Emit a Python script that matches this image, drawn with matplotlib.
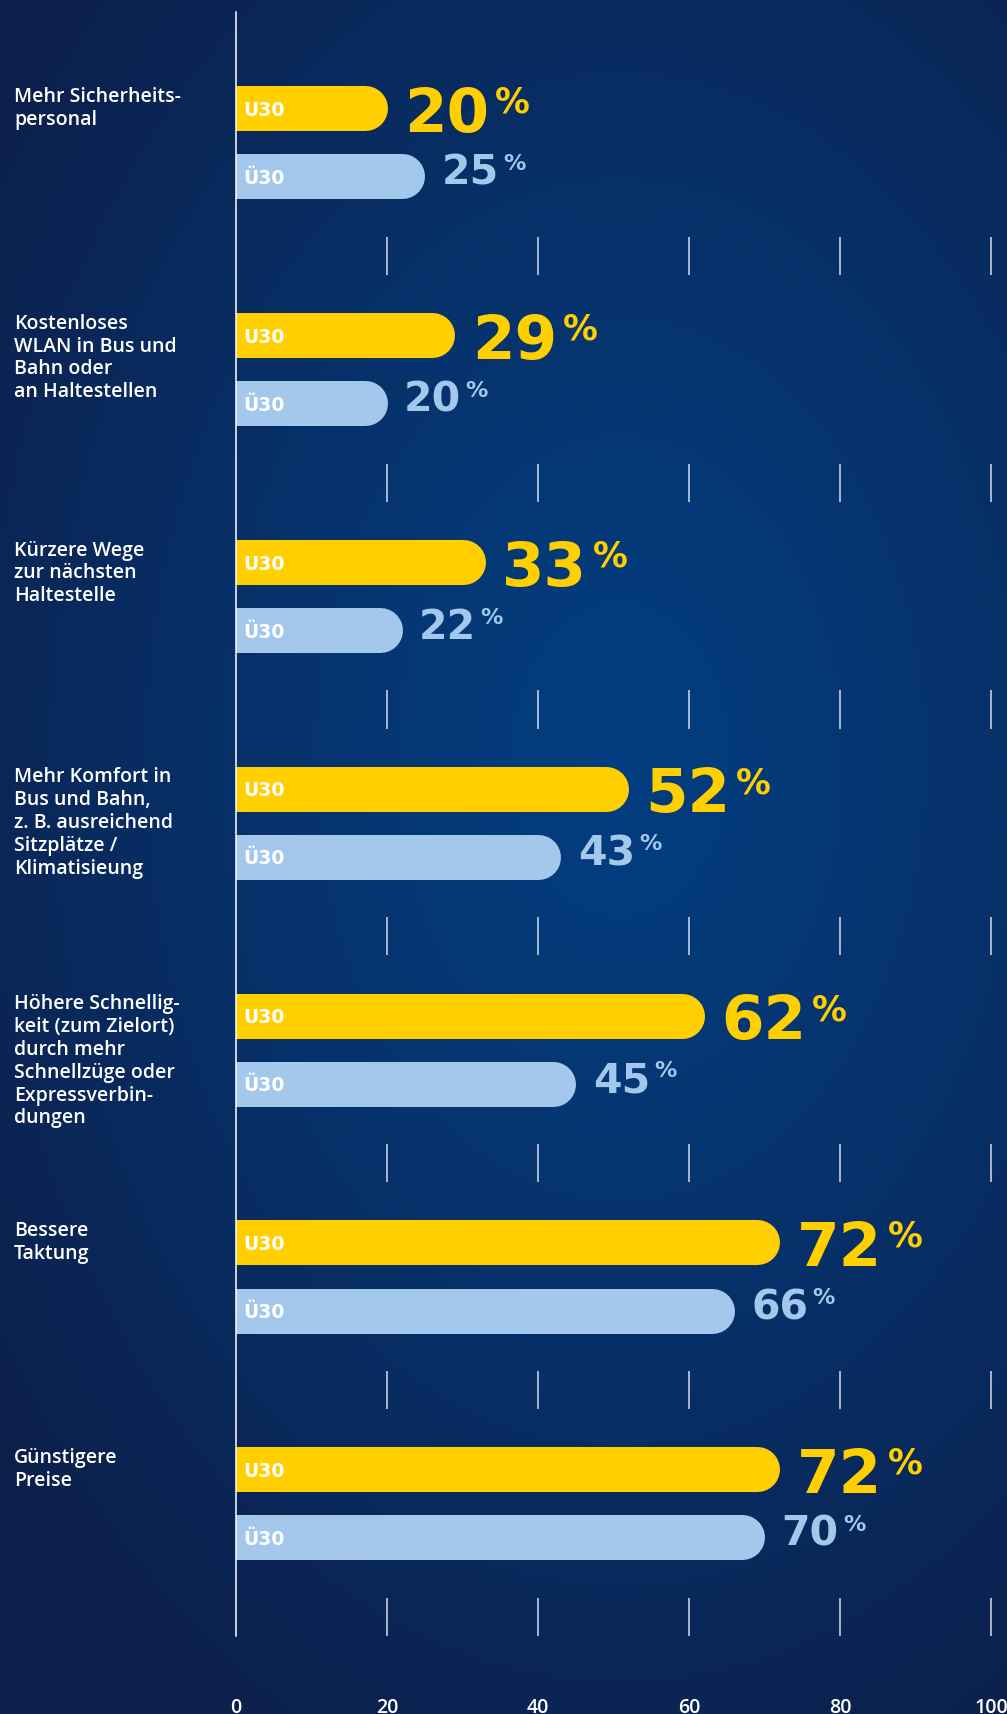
import numpy as np
import matplotlib.pyplot as plt
from matplotlib.transforms import blended_transform_factory

plt.rcParams['font.family'] = ['Open Sans', 'DejaVu Sans']

# Daten: Anteil in Prozent je Maßnahme
categories = ['Mehr Sicherheits-\npersonal',
              'Kostenloses\nWLAN in Bus und\nBahn oder\nan Haltestellen',
              'Kürzere Wege\nzur nächsten\nHaltestelle',
              'Mehr Komfort in\nBus und Bahn,\nz. B. ausreichend\nSitzplätze /\nKlimatisieung',
              'Höhere Schnellig-\nkeit (zum Zielort)\ndurch mehr\nSchnellzüge oder\nExpressverbin-\ndungen',
              'Bessere\nTaktung',
              'Günstigere\nPreise']
u30 = [20, 29, 33, 52, 62, 72, 72]
ue30 = [25, 20, 22, 43, 45, 66, 70]
series = ['U30', 'Ü30']
xticks = [0, 20, 40, 60, 80, 100]

yellow = '#ffcf00'
lightblue = '#a3c8ec'

W, H = 1007, 1715
fig = plt.figure(figsize=(W / 100, H / 100), dpi=100)

# Hintergrund: radialer Verlauf
bg = fig.add_axes([0, 0, 1, 1])
bg.axis('off')
yy, xx = np.mgrid[0:H, 0:W]
d = np.sqrt(((xx - 620) / 760) ** 2 + ((yy - 760) / 1100) ** 2)
d = np.clip(d, 0, 1) ** 1.2
c0 = np.array([3, 62, 128]) / 255
c1 = np.array([12, 32, 76]) / 255
bg.imshow(c0 + (c1 - c0) * d[..., None], extent=[0, W, H, 0], aspect='auto')
bg.set_xlim(0, W)
bg.set_ylim(H, 0)

# Hauptachse
ax_l, ax_b, ax_w, ax_h = 236, 78, 755, 1624
ax = fig.add_axes([ax_l / W, ax_b / H, ax_w / W, ax_h / H])
ax.patch.set_alpha(0)
ax.set_xlim(0, 100)
ax.set_ylim(6.585, -0.575)
for s in ['top', 'right', 'bottom']:
    ax.spines[s].set_visible(False)
ax.spines['left'].set_color('white')
ax.spines['left'].set_linewidth(1.1)
ax.set_yticks([])
ax.set_xticks(xticks)
ax.tick_params(axis='x', length=0, pad=44, labelcolor='white', labelsize=14)
for lab in ax.get_xticklabels():
    lab.set_fontweight('semibold')

px_x = ax_w / 100            # Pixel pro Prozentpunkt
px_y = ax_h / (6.585 + 0.575)  # Pixel pro Gruppe
bar_px = 45
r = bar_px / 2 / px_x
hb = bar_px / 2 / px_y
lw = bar_px * 72 / 100
gap = 17 / px_x
off = 0.15

pos = np.arange(len(categories))
lab_tr = blended_transform_factory(fig.transFigure, ax.transData)

for i in pos:
    yu = i - off
    yo = i + off
    # Balken mit abgerundetem Ende
    ax.plot([-10, u30[i] - r], [yu, yu], color=yellow, lw=lw, solid_capstyle='round')
    ax.plot([-10, ue30[i] - r], [yo, yo], color=lightblue, lw=lw, solid_capstyle='round')

    # Beschriftung im Balken
    for y, name in [(yu, series[0]), (yo, series[1])]:
        ax.text(0.9, y + 6.5 / px_y, name, color='white', fontsize=13.5,
                family='DejaVu Sans', weight='bold', va='baseline', ha='left')

    # Werte
    t = ax.text(u30[i] + gap, yu + hb, str(u30[i]), color=yellow, fontsize=44,
                family='DejaVu Sans', weight='bold', va='baseline', ha='left')
    ax.annotate('%', xy=(1, 1), xycoords=t, xytext=(4, 0), textcoords='offset points',
                color=yellow, fontsize=25, family='DejaVu Sans', weight='bold',
                va='top', ha='left')
    t = ax.text(ue30[i] + gap, yo - hb + 30 / px_y, str(ue30[i]), color=lightblue,
                fontsize=29.5, family='DejaVu Sans', weight='bold', va='baseline', ha='left')
    ax.annotate('%', xy=(1, 1), xycoords=t, xytext=(3, 0), textcoords='offset points',
                color=lightblue, fontsize=16, family='DejaVu Sans', weight='bold',
                va='top', ha='left')

    # Kategorie
    ax.text(14 / W, yu - hb, categories[i], transform=lab_tr, color='white',
            fontsize=14, weight='semibold', va='top', ha='left', linespacing=1.19)

# Trennstriche zwischen den Gruppen
half = 0.084
for b in pos + 0.5:
    ax.vlines(xticks[1:], b - half, b + half, color='#d5dceb', lw=1.1, clip_on=False)

fig.savefig('out.png', dpi=100)
